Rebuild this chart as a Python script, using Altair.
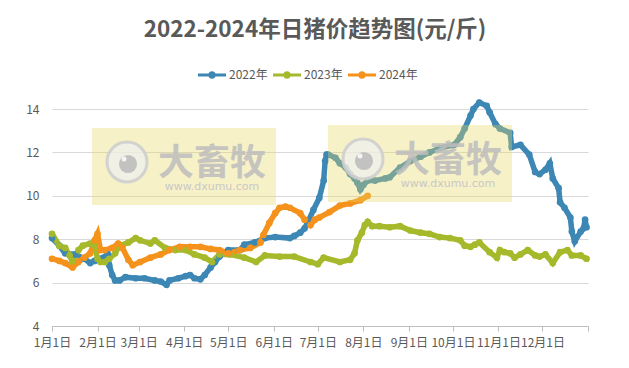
import altair as alt
import pandas as pd

series_names = ["2022年", "2023年", "2024年"]
series_colors = ["#3D87B5", "#A5B92B", "#F5921B"]

days_2022 = [0, 5, 9, 16, 22, 26, 29, 33, 38, 39, 41, 43, 46, 50, 57, 63, 70, 74, 78, 80,
             86, 91, 94, 97, 101, 104, 108, 111, 114, 120, 128, 131, 138, 145, 152, 162, 165,
             169, 172, 174, 178, 182, 185, 186, 187, 188, 193, 196, 200, 203, 206, 208, 210,
             212, 215, 220, 227, 230, 237, 244, 251, 257, 264, 274, 278, 281, 285, 287, 291,
             296, 298, 302, 305, 312, 313, 319, 325, 329, 332, 336, 339, 341, 345, 346, 349,
             353, 354, 356, 360, 362, 363, 364]
vals_2022 = [8.05, 7.7, 7.35, 7.3, 7.1, 6.9, 7.0, 7.1, 7.3, 6.8, 6.35, 6.1, 6.1, 6.25, 6.2, 6.2,
             6.1, 6.05, 5.9, 6.1, 6.2, 6.3, 6.35, 6.2, 6.15, 6.35, 6.7, 6.95, 7.2, 7.5, 7.5,
             7.75, 7.85, 8.05, 8.1, 8.05, 8.15, 8.3, 8.5, 8.75, 9.35, 9.9, 10.7, 11.6, 11.9,
             11.9, 11.75, 11.5, 11.3, 11.0, 10.8, 10.6, 10.3, 10.5, 10.7, 10.7, 10.8, 10.85,
             11.3, 11.6, 11.8, 12.0, 12.2, 12.35, 12.7, 13.1, 13.7, 14.0, 14.3, 14.15, 13.85,
             13.3, 13.1, 12.9, 12.25, 12.35, 11.9, 11.1, 11.0, 11.2, 11.5, 10.8, 10.35, 9.7,
             9.45, 9.0, 8.35, 7.9, 8.35, 8.5, 8.9, 8.55]

days_2023 = [0, 5, 9, 12, 14, 18, 21, 26, 29, 31, 33, 36, 39, 43, 46, 52, 57, 60, 67, 70, 77,
             84, 91, 97, 104, 109, 114, 121, 131, 139, 145, 155, 165, 176, 181, 185, 196, 203,
             206, 208, 211, 213, 215, 218, 223, 230, 237, 244, 251, 257, 264, 271, 278, 281,
             285, 288, 291, 298, 303, 305, 308, 312, 315, 319, 324, 329, 332, 336, 341, 346,
             351, 354, 360, 364]
vals_2023 = [8.25, 7.7, 7.6, 7.25, 6.95, 7.5, 7.7, 7.8, 7.7, 7.1, 6.95, 6.95, 7.1, 7.35, 7.7,
             7.85, 8.05, 7.95, 7.8, 7.95, 7.6, 7.5, 7.5, 7.3, 7.15, 6.95, 7.3, 7.3, 7.15, 6.95,
             7.25, 7.2, 7.2, 6.95, 6.85, 7.15, 6.95, 7.05, 7.35, 7.95, 8.3, 8.65, 8.8, 8.6, 8.6,
             8.55, 8.6, 8.4, 8.3, 8.25, 8.1, 8.05, 7.95, 7.7, 7.65, 7.75, 7.85, 7.4, 7.15, 7.5,
             7.4, 7.35, 7.15, 7.3, 7.5, 7.25, 7.2, 7.3, 6.9, 7.4, 7.5, 7.25, 7.25, 7.1]

days_2024 = [0, 5, 9, 14, 18, 22, 26, 29, 31, 33, 36, 41, 45, 48, 52, 55, 60, 67, 74, 80, 87,
             94, 101, 108, 114, 120, 128, 135, 142, 144, 148, 152, 155, 159, 162, 169, 172, 176,
             179, 182, 189, 196, 203, 210, 215]
vals_2024 = [7.1, 7.0, 6.9, 6.7, 6.95, 7.15, 7.35, 7.95, 8.25, 7.5, 7.5, 7.6, 7.8, 7.6, 7.05,
             6.8, 6.95, 7.15, 7.3, 7.5, 7.65, 7.65, 7.65, 7.55, 7.5, 7.35, 7.5, 7.6, 7.85, 8.2,
             8.75, 9.2, 9.45, 9.5, 9.45, 9.2, 8.9, 8.65, 8.9, 9.0, 9.25, 9.55, 9.65, 9.8, 10.0]

month_starts = [0, 31, 59, 90, 120, 151, 181, 212, 243, 273, 304, 334, 365]
y_ticks = [4, 6, 8, 10, 12, 14]

rows = []
for name, ds, vs in [(series_names[0], days_2022, vals_2022),
                     (series_names[1], days_2023, vals_2023),
                     (series_names[2], days_2024, vals_2024)]:
    for d, v in zip(ds, vs):
        rows.append({"series": name, "day": d, "price": v})
df = pd.DataFrame(rows)

FONT = "Noto Sans CJK SC"
GRAY = "#595959"

x_enc = alt.X("day:Q", scale=alt.Scale(domain=[0, 365], nice=False, zero=False),
              axis=alt.Axis(values=month_starts, title=None, grid=False,
                            labelExpr="datum.value >= 365 ? '' : (month(datetime(2023, 0, 1 + datum.value)) + 1) + '月1日'",
                            tickSize=5, tickColor="#BFBFBF", domainColor="#BFBFBF",
                            labelColor=GRAY, labelFontSize=12, labelFont=FONT,
                            labelPadding=6, labelFlush=False, labelOverlap=False))
y_enc = alt.Y("price:Q", scale=alt.Scale(domain=[4, 14], nice=False, zero=False),
              axis=alt.Axis(values=y_ticks, title=None, domain=False, ticks=False,
                            grid=True, gridColor="#D9D9D9", labelColor=GRAY,
                            labelFontSize=12, labelFont=FONT, labelPadding=13))
color_scale = alt.Scale(domain=series_names, range=series_colors)

legend_path = ("M-1,-0.11L1,-0.11L1,0.11L-1,0.11Z "
               "M0.27,0A0.27,0.27 0 1 1 -0.27,0A0.27,0.27 0 1 1 0.27,0Z")


def make_legend():
    return alt.Legend(title=None, orient="none", legendX=146, legendY=-48,
                      direction="horizontal", symbolType=legend_path,
                      symbolSize=784, symbolStrokeWidth=0,
                      labelFont=FONT, labelFontSize=12, labelColor=GRAY,
                      labelOffset=3, columnPadding=5)


lines = alt.Chart(df).mark_line(strokeWidth=5.5, clip=False).encode(
    x=x_enc, y=y_enc,
    color=alt.Color("series:N", scale=color_scale, legend=make_legend()),
    detail="series:N",
)
points = alt.Chart(df).mark_circle(size=45, opacity=1, clip=False).encode(
    x=x_enc, y=y_enc,
    color=alt.Color("series:N", scale=color_scale, legend=make_legend()),
)

dummy = pd.DataFrame({"a": [0]})


def watermark(x0, y0):
    base = alt.Chart(dummy)
    box = base.mark_rect(color="#E8D860", opacity=0.35).encode(
        x=alt.value(x0), x2=alt.value(x0 + 184), y=alt.value(y0), y2=alt.value(y0 + 77))
    ring_fill = base.mark_circle(color="#EFEFEF", opacity=0.75, size=1500).encode(
        x=alt.value(x0 + 35), y=alt.value(y0 + 34))
    ring = base.mark_point(shape="circle", filled=False, color="#CFCFCF", strokeWidth=3,
                           size=1600, opacity=0.9).encode(
        x=alt.value(x0 + 35), y=alt.value(y0 + 34))
    dot = base.mark_circle(color="#BDBDBD", opacity=0.9, size=330).encode(
        x=alt.value(x0 + 36), y=alt.value(y0 + 36))
    hl = base.mark_circle(color="#F4F4F4", opacity=1, size=25).encode(
        x=alt.value(x0 + 32), y=alt.value(y0 + 31))
    txt = base.mark_text(text="大畜牧", font=FONT, fontSize=36, fontWeight="bold",
                         color="#BDBDBD", opacity=0.85).encode(
        x=alt.value(x0 + 120), y=alt.value(y0 + 36))
    url = base.mark_text(text="www.dxumu.com", font="DejaVu Sans", fontSize=11,
                         color="#C4C4C4", opacity=0.9).encode(
        x=alt.value(x0 + 120), y=alt.value(y0 + 59))
    return [box, ring_fill, ring, dot, hl, txt, url]


layers = [lines, points] + watermark(40, 19) + watermark(276, 16)

chart = alt.layer(*layers).properties(
    width=536, height=217,
    padding={"left": 44, "top": 101, "right": 33, "bottom": 34},
    autosize=alt.AutoSizeParams(type="none"),
    background="white",
    title=alt.TitleParams("2022-2024年日猪价趋势图(元/斤)", font=FONT, fontSize=22.5,
                          fontWeight="bold", color=GRAY, anchor="middle", offset=20, dx=-5),
).configure_view(stroke=None)

chart.save("out.html", embed_options={"renderer": "svg", "actions": False})
